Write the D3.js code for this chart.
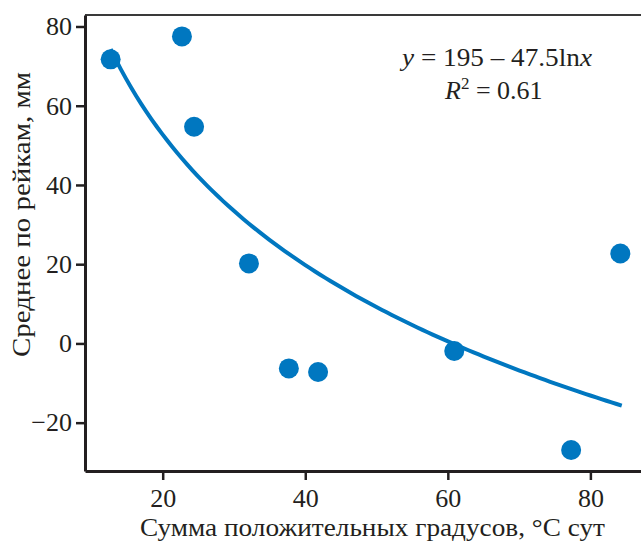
<!DOCTYPE html>
<html>
<head>
<meta charset="utf-8">
<script src="https://cdn.jsdelivr.net/npm/d3@7"></script>
<style>
  body { margin: 0; background: #fff; }
  text { font-family: "Liberation Serif", "DejaVu Serif", serif; fill: #231f20; }
</style>
</head>
<body>
<svg id="chart" width="641" height="542"></svg>
<script>
// point data
const sumDegrees = [12.7, 22.7, 24.4, 32.1, 37.7, 41.8, 60.9, 77.3, 84.2];
const meanRails  = [71.7, 77.5, 54.7, 20.2, -6.3, -7.2, -1.9, -26.9, 22.7];
const xTicks = [20, 40, 60, 80];
const yTicks = [-20, 0, 20, 40, 60, 80];
// fit given on the chart: y = a - b ln x
const fitA = 195, fitB = 47.5;
const fitRange = [12.7, 84.4];

const svg = d3.select('#chart');
const margin = {top: 15, right: 0, bottom: 71, left: 85};
const width = +svg.attr('width');
const height = +svg.attr('height');
const innerWidth = width - margin.left - margin.right;
const innerHeight = height - margin.top - margin.bottom;
const fontSize = '26px';

const xScale = d3.scaleLinear().domain([9.1, 87.1]).range([0, innerWidth]);
const yScale = d3.scaleLinear().domain([-32.2, 82.9]).range([innerHeight, 0]);

const g = svg.append('g')
    .attr('transform', 'translate(' + margin.left + ',' + margin.top + ')');

// top frame line
g.append('line')
    .attr('x1', 0).attr('x2', innerWidth)
    .attr('y1', 0).attr('y2', 0)
    .attr('stroke', '#3a3a3a')
    .attr('stroke-width', 2);

const xAxisG = g.append('g')
    .attr('transform', 'translate(0,' + innerHeight + ')')
    .call(d3.axisBottom(xScale).tickValues(xTicks).tickSize(9).tickPadding(9).tickSizeOuter(0));

const yAxisG = g.append('g')
    .call(d3.axisLeft(yScale).tickValues(yTicks).tickSize(9).tickPadding(4).tickSizeOuter(0)
        .tickFormat(d => d < 0 ? '\u2212' + Math.abs(d) : d));

[xAxisG, yAxisG].forEach(a => {
    a.attr('font-family', null).attr('font-size', null);
    a.select('.domain').attr('stroke', '#231f20').attr('stroke-width', 3);
    a.selectAll('.tick line').attr('stroke', '#231f20').attr('stroke-width', 2.5);
    a.selectAll('.tick text')
        .style('font-family', '"Liberation Serif", serif')
        .style('font-size', fontSize)
        .attr('fill', '#231f20');
});

// fit curve
const curvePts = d3.range(0, 101).map(i => {
    const x = fitRange[0] + (fitRange[1] - fitRange[0]) * i / 100;
    return [x, fitA - fitB * Math.log(x)];
});
g.append('path')
    .datum(curvePts)
    .attr('fill', 'none')
    .attr('stroke', '#0077c0')
    .attr('stroke-width', 4)
    .attr('d', d3.line().x(d => xScale(d[0])).y(d => yScale(d[1])));

g.selectAll('circle')
    .data(sumDegrees.map((x, i) => ({x: x, y: meanRails[i]})))
    .enter().append('circle')
    .attr('cx', d => xScale(d.x))
    .attr('cy', d => yScale(d.y))
    .attr('r', 10)
    .attr('fill', '#0077c0');

// equation
const eq = svg.append('text')
    .attr('x', 402).attr('y', 66)
    .attr('textLength', 190)
    .attr('lengthAdjust', 'spacingAndGlyphs')
    .style('font-size', fontSize);
eq.append('tspan').style('font-style', 'italic').text('y');
eq.append('tspan').text(' = 195 \u2013 47.5ln');
eq.append('tspan').style('font-style', 'italic').text('x');

const r2 = svg.append('text')
    .attr('x', 445).attr('y', 99)
    .style('font-size', fontSize);
r2.append('tspan').style('font-style', 'italic').text('R');
r2.append('tspan').attr('dy', -10).style('font-size', '17px').text('2');
r2.append('tspan').attr('dy', 10).text(' = 0.61');

// axis titles
svg.append('text')
    .attr('x', 140).attr('y', 536)
    .attr('textLength', 465)
    .attr('lengthAdjust', 'spacingAndGlyphs')
    .style('font-size', fontSize)
    .text('Сумма положительных градусов, °С сут');

svg.append('text')
    .attr('transform', 'translate(30,357) rotate(-90)')
    .attr('textLength', 285)
    .attr('lengthAdjust', 'spacingAndGlyphs')
    .style('font-size', fontSize)
    .text('Среднее по рейкам, мм');
</script>
</body>
</html>
